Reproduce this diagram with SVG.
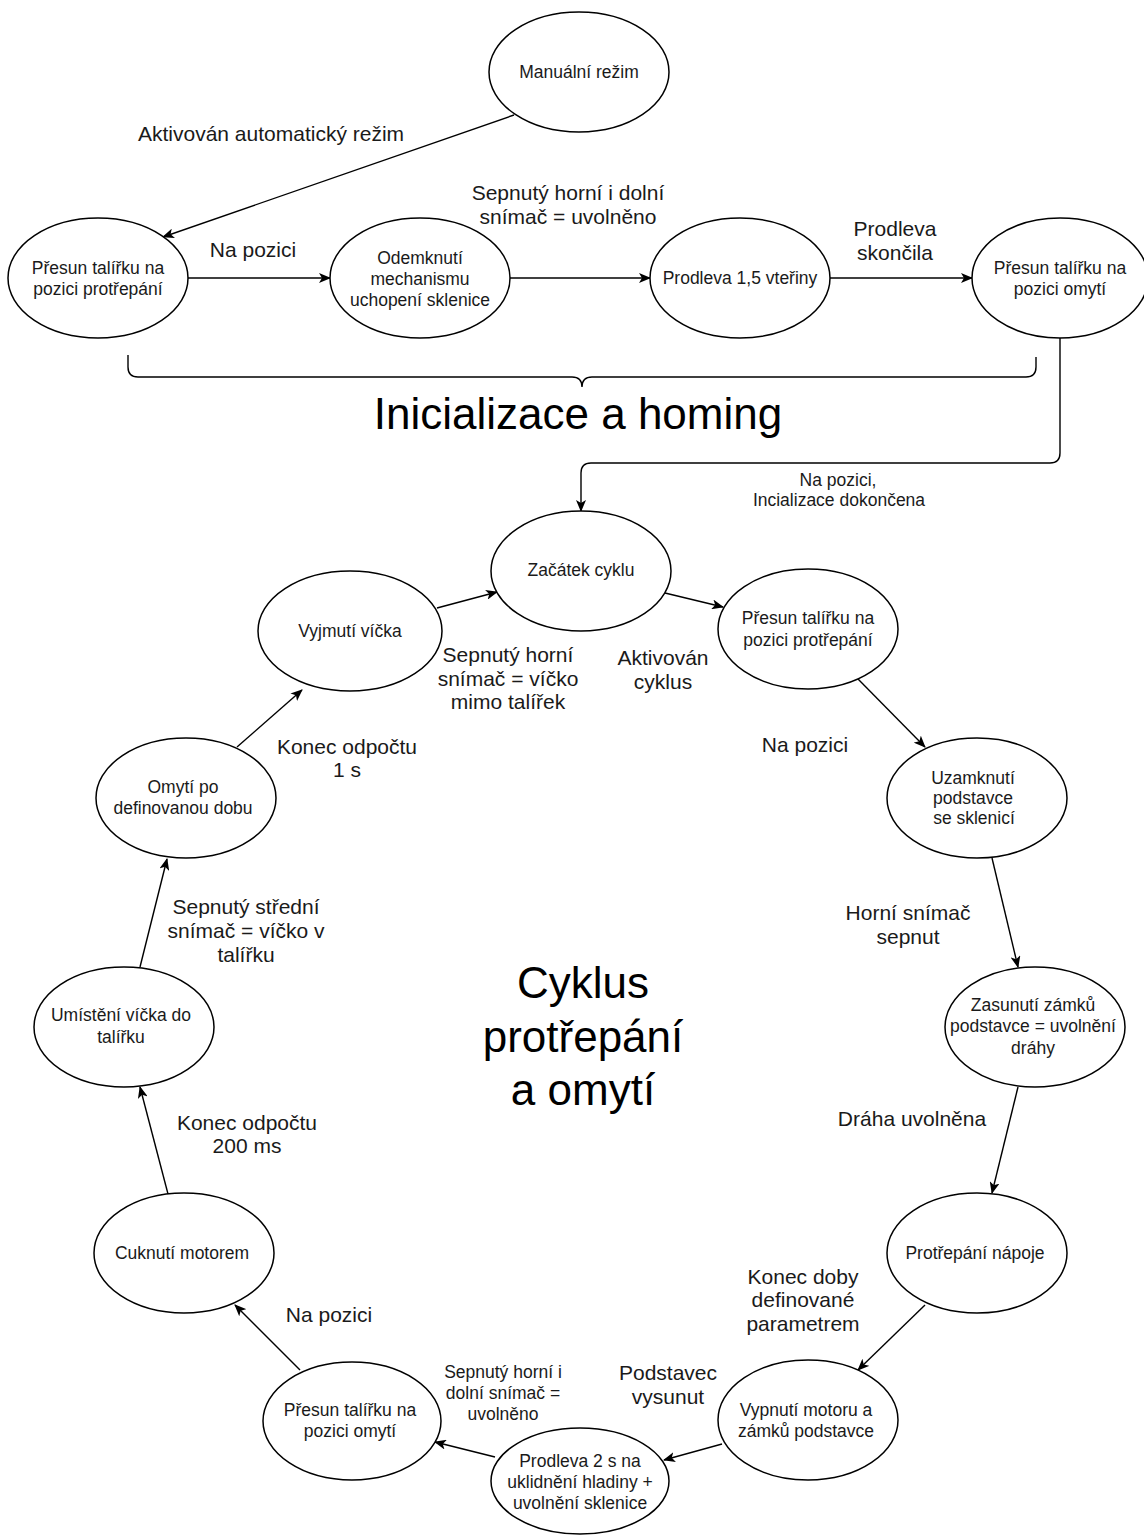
<svg xmlns="http://www.w3.org/2000/svg" width="1144" height="1535" viewBox="0 0 1144 1535">
  <style>
    .node ellipse { fill: #ffffff; stroke: #000000; stroke-width: 1.5; }
    .node text { font-family: "Liberation Sans", Arial, sans-serif; font-size: 17.5px; fill: #1a1a1a; text-anchor: middle; }
    .edge { fill: none; stroke: #000000; stroke-width: 1.4; marker-end: url(#arrow); }
    .lbl { font-family: "Liberation Sans", Arial, sans-serif; font-size: 21px; fill: #1a1a1a; text-anchor: middle; }
    .lbl-s { font-family: "Liberation Sans", Arial, sans-serif; font-size: 17.5px; fill: #1a1a1a; text-anchor: middle; }
    .title { font-family: "Liberation Sans", Arial, sans-serif; font-size: 44px; fill: #000000; text-anchor: middle; }
    .brace { fill: none; stroke: #000000; stroke-width: 1.4; }
  </style>
  <defs>
    <marker id="arrow" viewBox="0 0 12 10" markerWidth="12" markerHeight="10" refX="11" refY="5" orient="auto" markerUnits="userSpaceOnUse">
      <path d="M0,0 L12,5 L0,10 L3,5 Z" fill="#000000"/>
    </marker>
  </defs>

  <rect x="0" y="0" width="1144" height="1535" fill="#ffffff"/>

  <!-- connectors -->
  <g id="connectors">
    <path class="edge" d="M514,115 L163,237"/>
    <path class="edge" d="M188,278 L330,278"/>
    <path class="edge" d="M510,278 L650,278"/>
    <path class="edge" d="M830,278 L972,278"/>
    <path class="edge" d="M1060,338 V453 Q1060,463 1050,463 H591 Q581,463 581,473 V511"/>
    <path class="edge" d="M437,608 L497,592"/>
    <path class="edge" d="M665,593 L723,607"/>
    <path class="edge" d="M858,679 L925,747"/>
    <path class="edge" d="M992,858 L1018,967"/>
    <path class="edge" d="M1018,1087 L992,1193"/>
    <path class="edge" d="M925,1305 L858,1370"/>
    <path class="edge" d="M722,1444 L664,1460"/>
    <path class="edge" d="M495,1457 L435,1442"/>
    <path class="edge" d="M300,1370 L235,1305"/>
    <path class="edge" d="M168,1194 L140,1087"/>
    <path class="edge" d="M140,967 L167,859"/>
    <path class="edge" d="M237,747 L302,690"/>
  </g>

  <!-- connector labels -->
  <g id="labels">
    <text class="lbl" x="271" y="141">Aktivován automatický režim</text>
    <text class="lbl" x="253" y="257">Na pozici</text>
    <text class="lbl" x="568" y="200">Sepnutý horní i dolní</text>
    <text class="lbl" x="568" y="224">snímač = uvolněno</text>
    <text class="lbl" x="895" y="236">Prodleva</text>
    <text class="lbl" x="895" y="260">skončila</text>
    <text class="lbl-s" x="838" y="486">Na pozici,</text>
    <text class="lbl-s" x="839" y="506">Incializace dokončena</text>
    <text class="lbl" x="508" y="662">Sepnutý horní</text>
    <text class="lbl" x="508" y="686">snímač = víčko</text>
    <text class="lbl" x="508" y="709">mimo talířek</text>
    <text class="lbl" x="663" y="665">Aktivován</text>
    <text class="lbl" x="663" y="689">cyklus</text>
    <text class="lbl" x="805" y="752">Na pozici</text>
    <text class="lbl" x="347" y="754">Konec odpočtu</text>
    <text class="lbl" x="347" y="777">1 s</text>
    <text class="lbl" x="908" y="920">Horní snímač</text>
    <text class="lbl" x="908" y="944">sepnut</text>
    <text class="lbl" x="246" y="914">Sepnutý střední</text>
    <text class="lbl" x="246" y="938">snímač = víčko v</text>
    <text class="lbl" x="246" y="962">talířku</text>
    <text class="lbl" x="912" y="1126">Dráha uvolněna</text>
    <text class="lbl" x="247" y="1130">Konec odpočtu</text>
    <text class="lbl" x="247" y="1153">200 ms</text>
    <text class="lbl" x="803" y="1284">Konec doby</text>
    <text class="lbl" x="803" y="1307">definované</text>
    <text class="lbl" x="803" y="1331">parametrem</text>
    <text class="lbl" x="329" y="1322">Na pozici</text>
    <text class="lbl" x="668" y="1380">Podstavec</text>
    <text class="lbl" x="668" y="1404">vysunut</text>
    <text class="lbl-s" x="503" y="1378">Sepnutý horní i</text>
    <text class="lbl-s" x="503" y="1399">dolní snímač =</text>
    <text class="lbl-s" x="503" y="1420">uvolněno</text>
  </g>

  <!-- section brace and titles -->
  <g id="init-brace">
    <path class="brace" d="M128,355 V367 Q128,377 138,377 H572 Q582,377 582,387 Q582,377 592,377 H1026 Q1036,377 1036,367 V357"/>
    <text class="title" x="578" y="429">Inicializace a homing</text>
  </g>
  <g id="cycle-title">
    <text class="title" x="583" y="998">Cyklus</text>
    <text class="title" x="583" y="1052">protřepání</text>
    <text class="title" x="583" y="1105">a omytí</text>
  </g>

  <!-- initialisation states -->
  <g id="manual" class="node">
    <ellipse cx="579" cy="72" rx="90" ry="60"/>
    <text x="579" y="78">Manuální režim</text>
  </g>
  <g id="init-move-shake" class="node">
    <ellipse cx="98" cy="278" rx="90" ry="60"/>
    <text x="98" y="274">Přesun talířku na</text>
    <text x="98" y="295">pozici protřepání</text>
  </g>
  <g id="init-unlock" class="node">
    <ellipse cx="420" cy="278" rx="90" ry="60"/>
    <text x="420" y="264">Odemknutí</text>
    <text x="420" y="285">mechanismu</text>
    <text x="420" y="306">uchopení sklenice</text>
  </g>
  <g id="init-delay" class="node">
    <ellipse cx="740" cy="278" rx="90" ry="60"/>
    <text x="740" y="284">Prodleva 1,5 vteřiny</text>
  </g>
  <g id="init-move-wash" class="node">
    <ellipse cx="1060" cy="278" rx="88" ry="60"/>
    <text x="1060" y="274">Přesun talířku na</text>
    <text x="1060" y="295">pozici omytí</text>
  </g>

  <!-- cycle states -->
  <g id="cycle-start" class="node">
    <ellipse cx="581" cy="571" rx="90" ry="60"/>
    <text x="581" y="576">Začátek cyklu</text>
  </g>
  <g id="move-shake" class="node">
    <ellipse cx="808" cy="629" rx="90" ry="60"/>
    <text x="808" y="624">Přesun talířku na</text>
    <text x="808" y="646">pozici protřepání</text>
  </g>
  <g id="lock-base" class="node">
    <ellipse cx="977" cy="798" rx="90" ry="60"/>
    <text x="973" y="784">Uzamknutí</text>
    <text x="973" y="804">podstavce</text>
    <text x="974" y="824">se sklenicí</text>
  </g>
  <g id="retract-locks" class="node">
    <ellipse cx="1035" cy="1027" rx="90" ry="60"/>
    <text x="1033" y="1011">Zasunutí zámků</text>
    <text x="1033" y="1032">podstavce = uvolnění</text>
    <text x="1033" y="1054">dráhy</text>
  </g>
  <g id="shake" class="node">
    <ellipse cx="977" cy="1253" rx="90" ry="60"/>
    <text x="975" y="1259">Protřepání nápoje</text>
  </g>
  <g id="motor-off" class="node">
    <ellipse cx="808" cy="1420" rx="90" ry="60"/>
    <text x="806" y="1416">Vypnutí motoru a</text>
    <text x="806" y="1437">zámků podstavce</text>
  </g>
  <g id="settle-delay" class="node">
    <ellipse cx="580" cy="1481" rx="89" ry="53"/>
    <text x="580" y="1467">Prodleva 2 s na</text>
    <text x="580" y="1488">uklidnění hladiny +</text>
    <text x="580" y="1509">uvolnění sklenice</text>
  </g>
  <g id="move-wash" class="node">
    <ellipse cx="352" cy="1421" rx="89" ry="59"/>
    <text x="350" y="1416">Přesun talířku na</text>
    <text x="350" y="1437">pozici omytí</text>
  </g>
  <g id="jerk" class="node">
    <ellipse cx="184" cy="1253" rx="90" ry="60"/>
    <text x="182" y="1259">Cuknutí motorem</text>
  </g>
  <g id="place-lid" class="node">
    <ellipse cx="124" cy="1027" rx="90" ry="60"/>
    <text x="121" y="1021">Umístění víčka do</text>
    <text x="121" y="1043">talířku</text>
  </g>
  <g id="wash" class="node">
    <ellipse cx="186" cy="798" rx="90" ry="60"/>
    <text x="183" y="793">Omytí po</text>
    <text x="183" y="814">definovanou dobu</text>
  </g>
  <g id="remove-lid" class="node">
    <ellipse cx="350" cy="631" rx="92" ry="60"/>
    <text x="350" y="637">Vyjmutí víčka</text>
  </g>
</svg>
